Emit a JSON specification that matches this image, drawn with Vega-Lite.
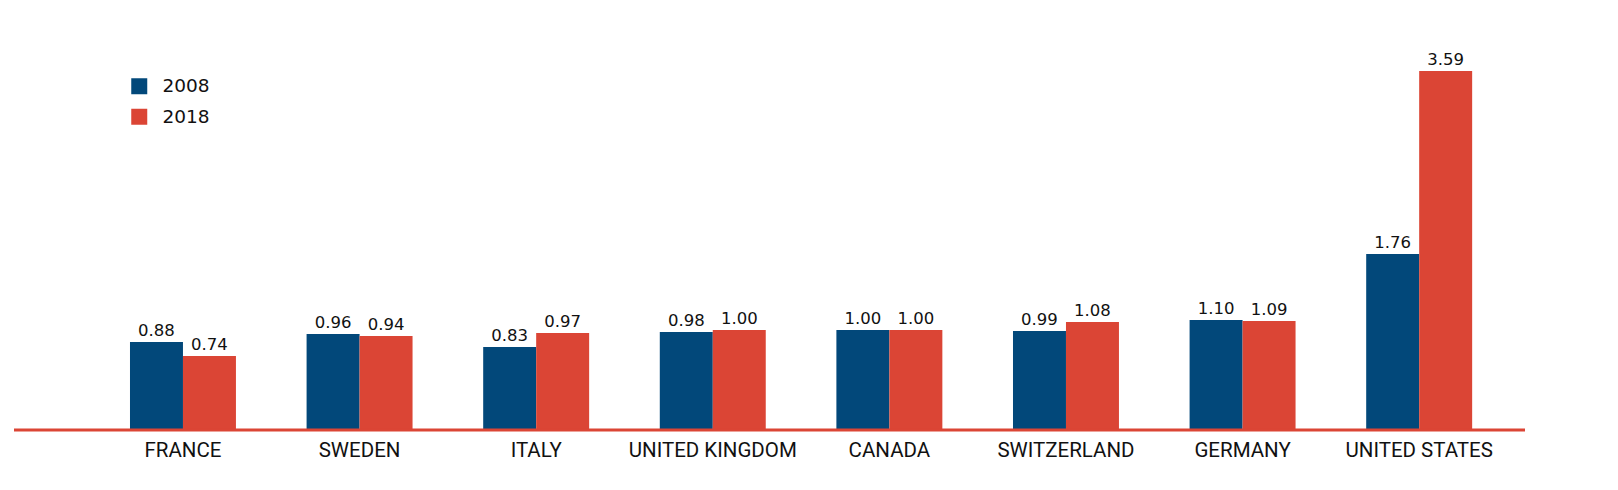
{
  "$schema": "https://vega.github.io/schema/vega-lite/v6.json",
  "width": 1511,
  "height": 400,
  "autosize": {"type": "none"},
  "padding": {"left": 14, "top": 30, "right": 93, "bottom": 60},
  "config": {"view": {"stroke": null}, "font": "DejaVu Sans"},
  "data": {"values": [
    {"country": "FRANCE", "year": "2008", "value": 0.88},
    {"country": "FRANCE", "year": "2018", "value": 0.74},
    {"country": "SWEDEN", "year": "2008", "value": 0.96},
    {"country": "SWEDEN", "year": "2018", "value": 0.94},
    {"country": "ITALY", "year": "2008", "value": 0.83},
    {"country": "ITALY", "year": "2018", "value": 0.97},
    {"country": "UNITED KINGDOM", "year": "2008", "value": 0.98},
    {"country": "UNITED KINGDOM", "year": "2018", "value": 1.00},
    {"country": "CANADA", "year": "2008", "value": 1.00},
    {"country": "CANADA", "year": "2018", "value": 1.00},
    {"country": "SWITZERLAND", "year": "2008", "value": 0.99},
    {"country": "SWITZERLAND", "year": "2018", "value": 1.08},
    {"country": "GERMANY", "year": "2008", "value": 1.10},
    {"country": "GERMANY", "year": "2018", "value": 1.09},
    {"country": "UNITED STATES", "year": "2008", "value": 1.76},
    {"country": "UNITED STATES", "year": "2018", "value": 3.59}
  ]},
  "layer": [
    {
      "mark": {"type": "bar"},
      "encoding": {
        "x": {"field": "country", "type": "nominal", "sort": null,
          "scale": {"paddingInner": 0.4, "paddingOuter": 0.478, "align": 0.687},
          "axis": {"title": null, "domain": false, "ticks": false, "labelAngle": 0, "labelFont": "Roboto", "labelFontWeight": 400, "labelFontSize": 20.5, "labelColor": "#111111", "labelPadding": 10}},
        "xOffset": {"field": "year", "type": "nominal", "scale": {"paddingInner": 0, "paddingOuter": 0}},
        "y": {"field": "value", "type": "quantitative", "scale": {"domain": [0, 4]}, "axis": null},
        "color": {"field": "year", "type": "nominal",
          "scale": {"domain": ["2008", "2018"], "range": ["#02487A", "#DB4535"]},
          "legend": {"orient": "none", "legendX": 116, "legendY": 47, "title": null, "symbolType": "square", "symbolSize": 256, "symbolStrokeWidth": 0, "labelFontSize": 18.5, "labelColor": "#111111", "rowPadding": 11.5, "labelOffset": 14, "direction": "vertical"}}
      }
    },
    {
      "mark": {"type": "text", "baseline": "alphabetic", "dy": -6, "fontSize": 16.5, "color": "#111111"},
      "encoding": {
        "x": {"field": "country", "type": "nominal", "sort": null},
        "xOffset": {"field": "year", "type": "nominal"},
        "y": {"field": "value", "type": "quantitative"},
        "text": {"field": "value", "type": "quantitative", "format": ".2f"}
      }
    },
    {
      "data": {"values": [{"v": 0}]},
      "mark": {"type": "rule", "color": "#DB4535", "strokeWidth": 3},
      "encoding": {"y": {"field": "v", "type": "quantitative"}}
    }
  ]
}
